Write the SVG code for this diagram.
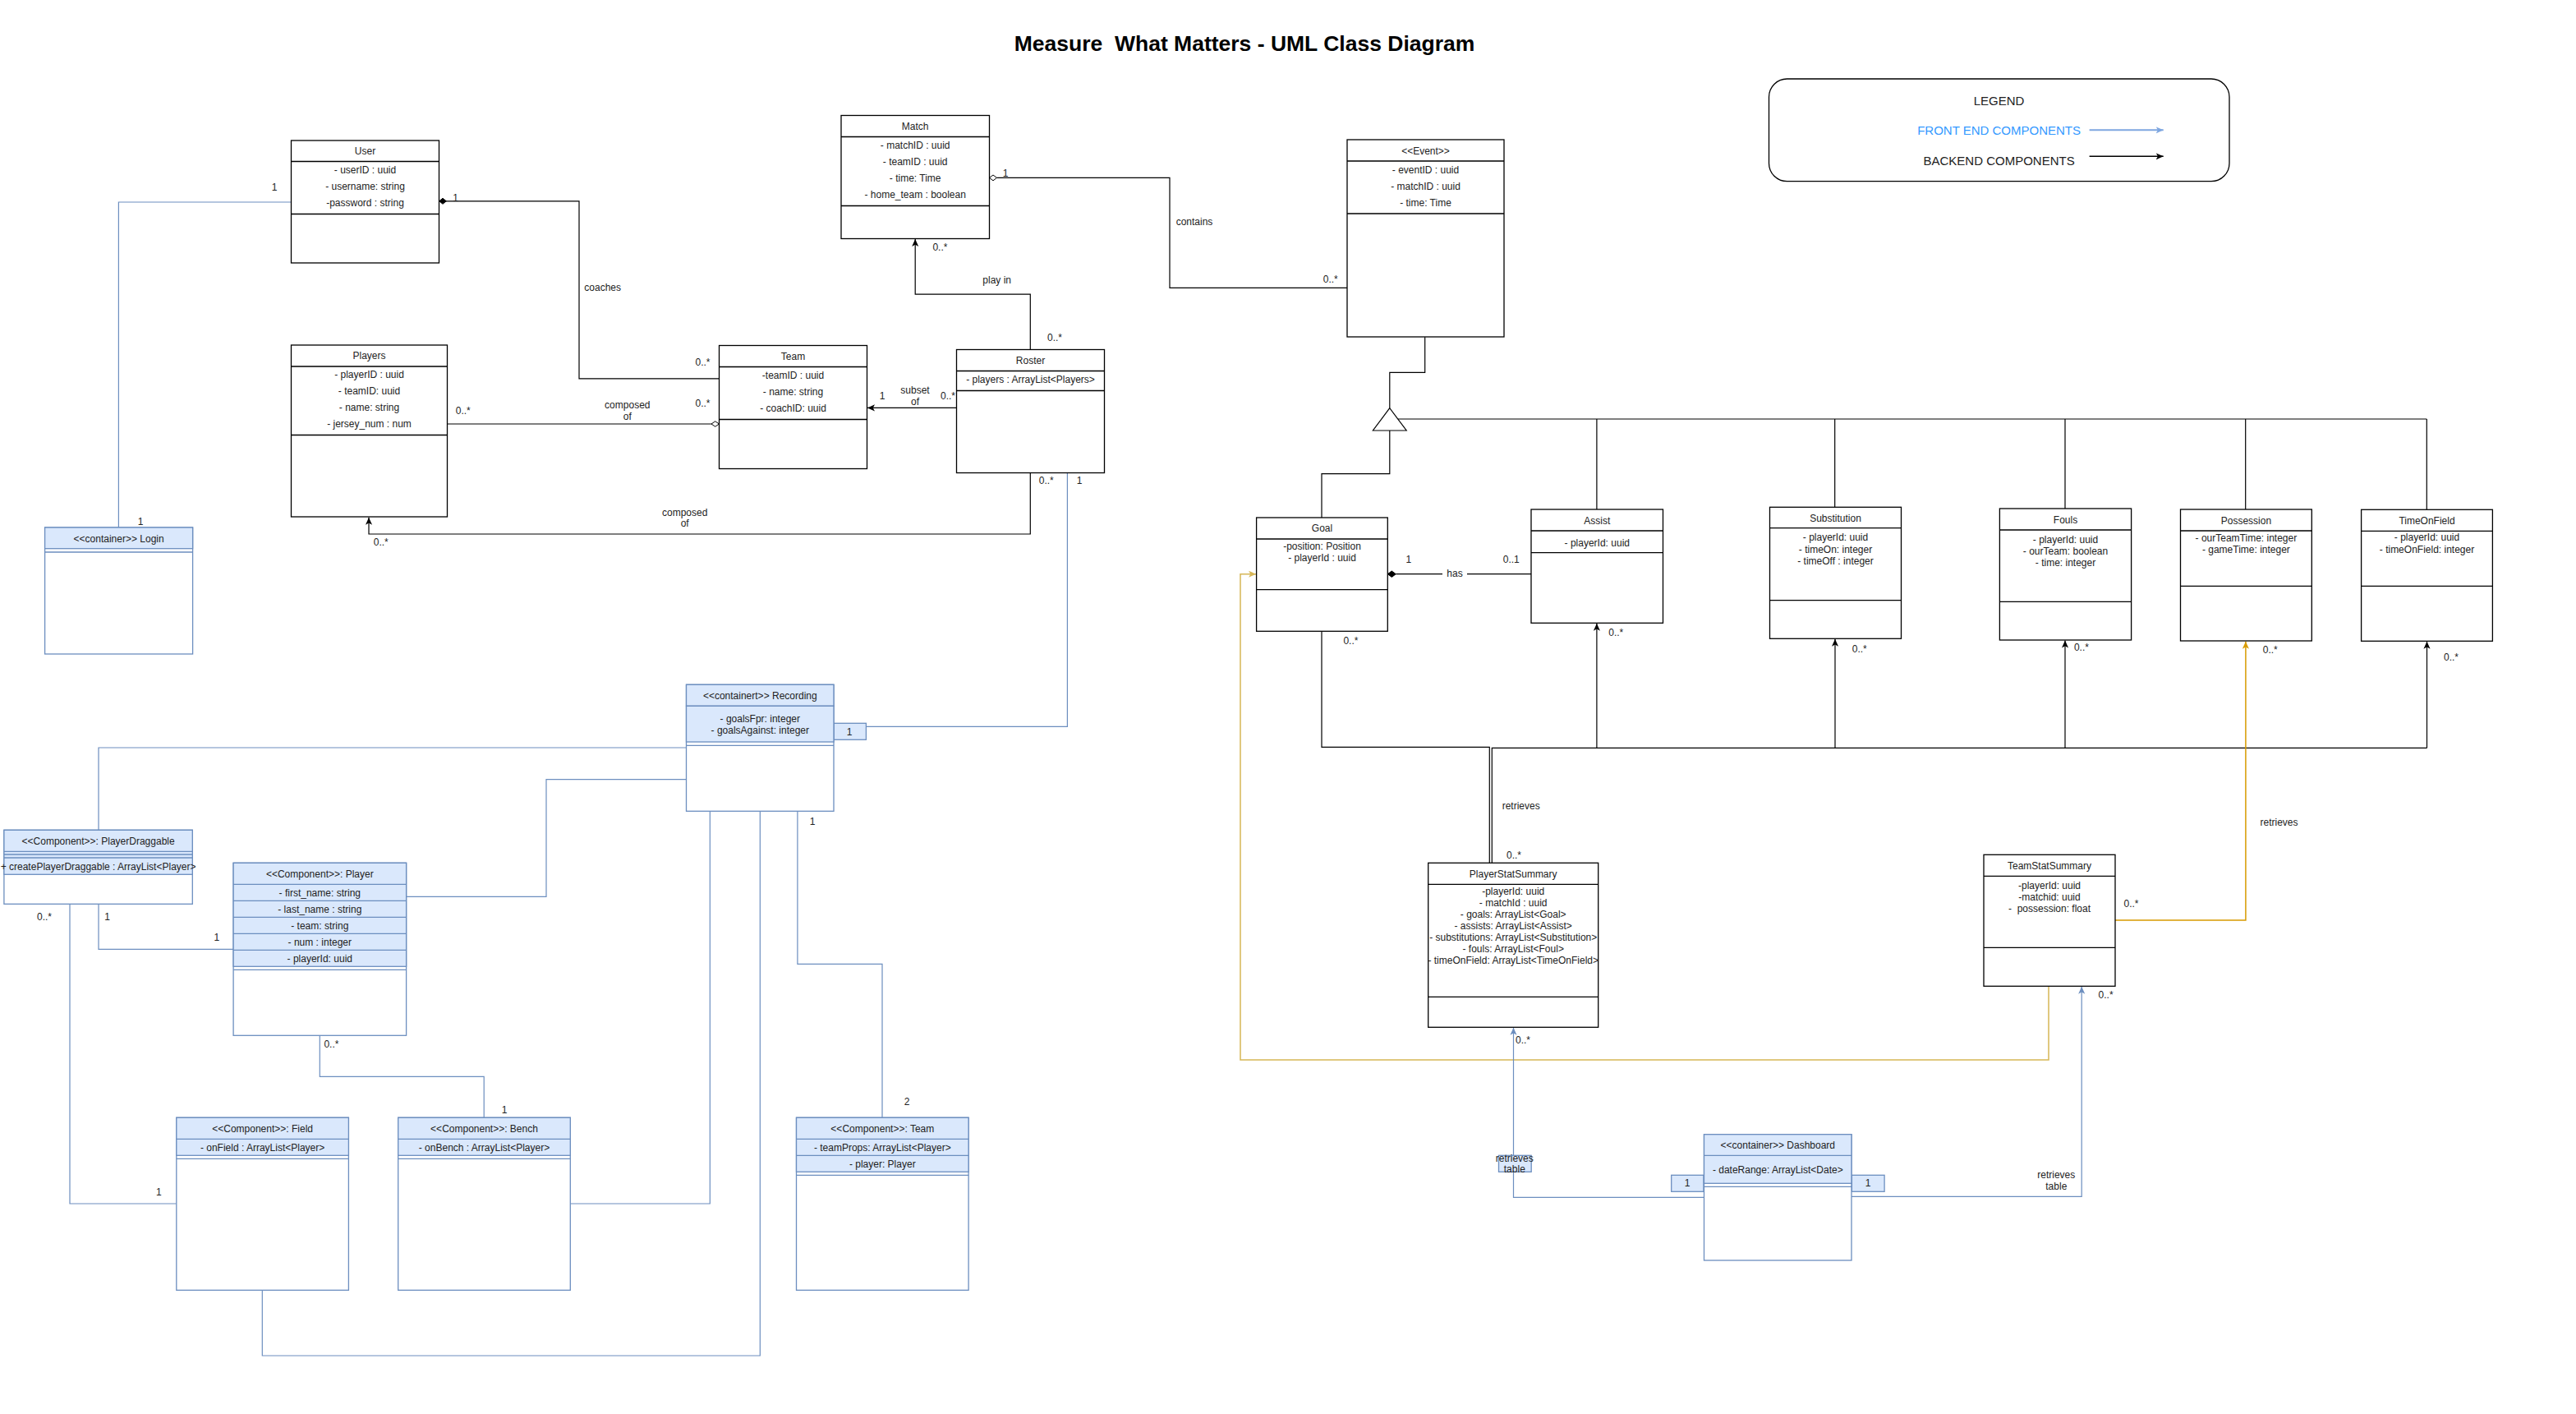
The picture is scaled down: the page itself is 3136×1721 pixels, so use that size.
<svg xmlns="http://www.w3.org/2000/svg" width="3136" height="1721" viewBox="0 0 3136 1721">
<style>
.t{font-family:"Liberation Sans",Arial,sans-serif;font-size:12px;fill:#222;text-anchor:middle;dominant-baseline:central}
.tl{text-anchor:start}
.box{fill:#fff;stroke:#000;stroke-width:1.3}
.sep{stroke:#000;stroke-width:1.3;fill:none}
.bbox{fill:#fff;stroke:#6c8ebf;stroke-width:1.3}
.bf{fill:#dae8fc;stroke:#6c8ebf;stroke-width:1.3}
.bsep{stroke:#6c8ebf;stroke-width:1.3;fill:none}
.c{fill:none;stroke:#000;stroke-width:1.2}
.cb{fill:none;stroke:#6c8ebf;stroke-width:1.2}
.cy{fill:none;stroke:#d6b656;stroke-width:1.5}
.co{fill:none;stroke:#d79b00;stroke-width:1.5}
.lg{font-size:15px}
</style>
<defs>
<marker id="ab" viewBox="0 0 10 10" refX="10" refY="5" markerWidth="9" markerHeight="9" markerUnits="userSpaceOnUse" orient="auto"><path d="M0,0.5 L10,5 L0,9.5 L2.5,5 z" fill="#000"/></marker>
<marker id="abl" viewBox="0 0 10 10" refX="10" refY="5" markerWidth="9" markerHeight="9" markerUnits="userSpaceOnUse" orient="auto"><path d="M0,0.5 L10,5 L0,9.5 L2.5,5 z" fill="#6c8ebf"/></marker>
<marker id="ay" viewBox="0 0 10 10" refX="10" refY="5" markerWidth="9" markerHeight="9" markerUnits="userSpaceOnUse" orient="auto"><path d="M0,0.5 L10,5 L0,9.5 L2.5,5 z" fill="#d6b656"/></marker>
<marker id="ao" viewBox="0 0 10 10" refX="10" refY="5" markerWidth="9" markerHeight="9" markerUnits="userSpaceOnUse" orient="auto"><path d="M0,0.5 L10,5 L0,9.5 L2.5,5 z" fill="#d79b00"/></marker>
<marker id="alg" viewBox="0 0 10 10" refX="10" refY="5" markerWidth="9" markerHeight="9" markerUnits="userSpaceOnUse" orient="auto"><path d="M0,0.5 L10,5 L0,9.5 L2.5,5 z" fill="#7ea6e0"/></marker>
</defs>
<rect x="0" y="0" width="3136" height="1721" fill="#fff"/>

<text x="1515" y="53" class="t" style="font-size:26.5px;font-weight:bold;fill:#000;white-space:pre" xml:space="preserve">Measure  What Matters - UML Class Diagram</text>

<g id="legend">
<rect x="2153.5" y="96" width="560.5" height="124.7" rx="22" ry="22" fill="#fff" stroke="#000" stroke-width="1.3"/>
<text x="2433.6" y="122.7" class="t lg">LEGEND</text>
<text x="2433.6" y="158.7" class="t lg" style="fill:#3399ff">FRONT END COMPONENTS</text>
<line x1="2543.6" y1="158.3" x2="2633.7" y2="158.3" stroke="#7ea6e0" stroke-width="2" marker-end="url(#alg)"/>
<text x="2433.6" y="195" class="t lg">BACKEND COMPONENTS</text>
<line x1="2543.6" y1="190.3" x2="2633.7" y2="190.3" stroke="#000" stroke-width="1.5" marker-end="url(#ab)"/>
</g>

<g id="connectors">
<!-- User - Team coaches -->
<path class="c" d="M542,244.8 H705 V460.8 H875.5"/>
<polygon points="534.7,244.8 539,241.3 543.3,244.8 539,248.3" fill="#000" stroke="#000"/>
<text x="554.6" y="240.5" class="t">1</text>
<text x="733.7" y="350.4" class="t">coaches</text>
<text x="855.5" y="440.7" class="t">0..*</text>
<!-- Players - Team composed of -->
<path class="c" d="M544.5,516 H866"/>
<polygon points="866,516 870.7,512.8 875.5,516 870.7,519.2" fill="#fff" stroke="#000" stroke-width="1"/>
<text x="563.8" y="499.8" class="t">0..*</text>
<text x="763.8" y="493.3" class="t">composed</text>
<text x="763.8" y="507" class="t">of</text>
<text x="855.5" y="490.7" class="t">0..*</text>
<!-- Roster - Team subset of -->
<path class="c" d="M1164.3,496.4 H1056" marker-end="url(#ab)"/>
<text x="1074" y="481.8" class="t">1</text>
<text x="1114" y="474.6" class="t">subset</text>
<text x="1114" y="489" class="t">of</text>
<text x="1154" y="481.8" class="t">0..*</text>
<!-- Roster - Match play in -->
<path class="c" d="M1254.3,425.7 V358.2 H1114.2 V291" marker-end="url(#ab)"/>
<text x="1213.7" y="340.7" class="t">play in</text>
<text x="1144.4" y="300.7" class="t">0..*</text>
<text x="1284" y="410.7" class="t">0..*</text>
<!-- Roster - Players composed of -->
<path class="c" d="M1254.3,575.7 V650 H449 V629.8" marker-end="url(#ab)"/>
<text x="1273.8" y="585.4" class="t">0..*</text>
<text x="833.7" y="623.6" class="t">composed</text>
<text x="833.7" y="637" class="t">of</text>
<text x="463.8" y="659.5" class="t">0..*</text>
<!-- Match - Event contains -->
<polygon points="1204.5,216.4 1209,213 1213.5,216.4 1209,219.8" fill="#fff" stroke="#000" stroke-width="1"/>
<path class="c" d="M1213.5,216.4 H1424 V350.3 H1640"/>
<text x="1224" y="211" class="t">1</text>
<text x="1454" y="270" class="t">contains</text>
<text x="1619.8" y="340.3" class="t">0..*</text>
<!-- Generalization -->
<path class="c" d="M1734.7,410.3 V453.3 H1691.8 V496.7"/>
<polygon points="1691.8,496.7 1671.4,524 1712.2,524" fill="#fff" stroke="#000" stroke-width="1.2"/>
<path class="c" d="M1691.8,524 V576.7 H1609 V630"/>
<path class="c" d="M1702,510 H2954.3"/>
<path class="c" d="M1943.9,510 V620 M2233.7,510 V617.3 M2514,510 V619 M2733.7,510 V620 M2954.3,510 V620.3"/>
<!-- Goal - Assist has -->
<polygon points="1689.3,698.7 1694.3,695 1699.3,698.7 1694.3,702.4" fill="#000" stroke="#000"/>
<path class="c" d="M1699.3,698.7 H1864"/>
<rect x="1756" y="690" width="30" height="16" fill="#fff"/>
<text x="1771" y="697.5" class="t">has</text>
<text x="1714.8" y="681" class="t">1</text>
<text x="1839.8" y="681" class="t">0..1</text>
<!-- Goal - PlayerStatSummary -->
<path class="c" d="M1609,768.3 V909.3 H1813.3 V1050.3"/>
<!-- PlayerStatSummary - events -->
<path class="c" d="M1816.3,1050.3 V910.3 H2954.6"/>
<path class="c" d="M1943.9,910.3 V758.8" marker-end="url(#ab)"/>
<path class="c" d="M2234,910.3 V777.8" marker-end="url(#ab)"/>
<path class="c" d="M2514,910.3 V779.5" marker-end="url(#ab)"/>
<path class="c" d="M2954.5,910.3 V780.8" marker-end="url(#ab)"/>
<text x="1828.7" y="980.7" class="t tl">retrieves</text>
<text x="1843" y="1040.7" class="t">0..*</text>
<text x="1644.4" y="780.3" class="t">0..*</text>
<text x="1967.3" y="770.3" class="t">0..*</text>
<text x="2263.8" y="790" class="t">0..*</text>
<text x="2533.9" y="788" class="t">0..*</text>
<text x="2984" y="800" class="t">0..*</text>
<!-- TeamStatSummary - Possession -->
<path class="co" d="M2575,1120 H2733.9 V780.8" marker-end="url(#ao)"/>
<text x="2774.5" y="1000.7" class="t">retrieves</text>
<text x="2594.5" y="1100" class="t">0..*</text>
<text x="2763.8" y="790.7" class="t">0..*</text>
<!-- TeamStatSummary - Goal -->
<path class="cy" d="M2494,1200.3 V1290 H1510 V698.7 H1529.1" marker-end="url(#ay)"/>

<!-- User - Login -->
<path class="cb" d="M354.5,246 H144.4 V642"/>
<text x="334" y="228" class="t">1</text>
<text x="171" y="635" class="t">1</text>
<!-- Roster - Recording -->
<path class="cb" d="M1299.4,575.7 V884.3 H1054.4"/>
<rect x="1015" y="880.3" width="39.4" height="20" class="bf"/>
<text x="1034" y="890.7" class="t">1</text>
<text x="1314" y="585.4" class="t">1</text>
<!-- Recording - PlayerDraggable -->
<path class="cb" d="M835.5,910 H120 V1010.3"/>
<!-- Player - Recording -->
<path class="cb" d="M494.6,1091.3 H665 V948.7 H835.5"/>
<!-- PlayerDraggable - Player -->
<path class="cb" d="M120,1100.3 V1155.3 H284.1"/>
<text x="130.5" y="1116" class="t">1</text>
<text x="263.8" y="1140.7" class="t">1</text>
<!-- PlayerDraggable - Field -->
<path class="cb" d="M85,1100.3 V1465 H214.8"/>
<text x="54" y="1116" class="t">0..*</text>
<text x="193.4" y="1450.7" class="t">1</text>
<!-- Player - Bench -->
<path class="cb" d="M389.3,1260.3 V1310.3 H589.2 V1360.3"/>
<text x="403.4" y="1270.7" class="t">0..*</text>
<text x="614" y="1350.7" class="t">1</text>
<!-- Recording - Bench -->
<path class="cb" d="M864.3,987.3 V1465 H694.3"/>
<!-- Recording - Field -->
<path class="cb" d="M925.3,987.3 V1650 H319.3 V1570.3"/>
<!-- Recording - Team component -->
<path class="cb" d="M970.9,987.3 V1173.3 H1074 V1360.3"/>
<text x="989" y="1000.3" class="t">1</text>
<text x="1104" y="1340.7" class="t">2</text>
<!-- Dashboard - PlayerStatSummary -->
<path class="cb" d="M2074.5,1457.3 H1842.5 V1250.8" marker-end="url(#abl)"/>
<rect x="1824.5" y="1406.3" width="39.7" height="20" class="bf"/>
<text x="1843.8" y="1410" class="t">retrieves</text>
<text x="1843.8" y="1423.3" class="t">table</text>
<text x="1854" y="1266" class="t">0..*</text>
<rect x="2034.7" y="1430.3" width="39.3" height="20" class="bf"/>
<text x="2054" y="1440.3" class="t">1</text>
<!-- Dashboard - TeamStatSummary -->
<path class="cb" d="M2254,1456.3 H2534.2 V1200.8" marker-end="url(#abl)"/>
<rect x="2254.4" y="1430.3" width="39.7" height="20" class="bf"/>
<text x="2274" y="1440.3" class="t">1</text>
<text x="2503.3" y="1430.3" class="t">retrieves</text>
<text x="2503.3" y="1443.7" class="t">table</text>
<text x="2563.6" y="1210.7" class="t">0..*</text>
</g>

<g id="User">
<rect x="354.5" y="171" width="180" height="149" class="box"/>
<path class="sep" d="M354.5,196.5 H534.5 M354.5,260.5 H534.5"/>
<text x="444.5" y="183.5" class="t">User</text>
<text x="444.5" y="206.5" class="t">- userID : uuid</text>
<text x="444.5" y="226.5" class="t">- username: string</text>
<text x="444.5" y="246.5" class="t">-password : string</text>
</g>

<g id="Players">
<rect x="354.5" y="420" width="190" height="209" class="box"/>
<path class="sep" d="M354.5,446 H544.5 M354.5,529.5 H544.5"/>
<text x="449.5" y="433" class="t">Players</text>
<text x="449.5" y="456" class="t">- playerID : uuid</text>
<text x="449.5" y="476" class="t">- teamID: uuid</text>
<text x="449.5" y="496" class="t">- name: string</text>
<text x="449.5" y="516" class="t">- jersey_num : num</text>
</g>

<g id="Match">
<rect x="1024" y="140.5" width="180.5" height="150" class="box"/>
<path class="sep" d="M1024,166.5 H1204.5 M1024,250.5 H1204.5"/>
<text x="1114.2" y="153.5" class="t">Match</text>
<text x="1114.2" y="176.5" class="t">- matchID : uuid</text>
<text x="1114.2" y="196.5" class="t">- teamID : uuid</text>
<text x="1114.2" y="216.5" class="t">- time: Time</text>
<text x="1114.2" y="236.5" class="t">- home_team : boolean</text>
</g>

<g id="Team">
<rect x="875.5" y="420.5" width="180" height="150" class="box"/>
<path class="sep" d="M875.5,446.5 H1055.5 M875.5,510.5 H1055.5"/>
<text x="965.5" y="433.5" class="t">Team</text>
<text x="965.5" y="456.5" class="t">-teamID : uuid</text>
<text x="965.5" y="476.5" class="t">- name: string</text>
<text x="965.5" y="496.5" class="t">- coachID: uuid</text>
</g>

<g id="Roster">
<rect x="1164.5" y="425.5" width="180" height="150" class="box"/>
<path class="sep" d="M1164.5,451.5 H1344.5 M1164.5,475.5 H1344.5"/>
<text x="1254.5" y="438.5" class="t">Roster</text>
<text x="1254.5" y="461.8" class="t">- players : ArrayList&lt;Players&gt;</text>
</g>

<g id="Event">
<rect x="1640" y="170" width="191" height="240" class="box"/>
<path class="sep" d="M1640,196 H1831 M1640,260 H1831"/>
<text x="1735.5" y="183.5" class="t">&lt;&lt;Event&gt;&gt;</text>
<text x="1735.5" y="206.5" class="t">- eventID : uuid</text>
<text x="1735.5" y="226.5" class="t">- matchID : uuid</text>
<text x="1735.5" y="246.5" class="t">- time: Time</text>
</g>

<g id="Goal">
<rect x="1529.6" y="630" width="159.7" height="138.3" class="box"/>
<path class="sep" d="M1529.6,656 H1689.3 M1529.6,717.7 H1689.3"/>
<text x="1609.5" y="643.3" class="t">Goal</text>
<text x="1609.5" y="665" class="t">-position: Position</text>
<text x="1609.5" y="679.3" class="t">- playerId : uuid</text>
</g>

<g id="Assist">
<rect x="1864" y="620" width="160.5" height="138.3" class="box"/>
<path class="sep" d="M1864,646 H2024.5 M1864,672.7 H2024.5"/>
<text x="1944.3" y="633.7" class="t">Assist</text>
<text x="1944.3" y="661" class="t">- playerId: uuid</text>
</g>

<g id="Substitution">
<rect x="2154.5" y="617.3" width="160" height="160" class="box"/>
<path class="sep" d="M2154.5,642.7 H2314.5 M2154.5,730.7 H2314.5"/>
<text x="2234.5" y="630.7" class="t">Substitution</text>
<text x="2234.5" y="654" class="t">- playerId: uuid</text>
<text x="2234.5" y="668.7" class="t">- timeOn: integer</text>
<text x="2234.5" y="682.7" class="t">- timeOff : integer</text>
</g>

<g id="Fouls">
<rect x="2434.4" y="619" width="160.2" height="160" class="box"/>
<path class="sep" d="M2434.4,645 H2594.6 M2434.4,732.3 H2594.6"/>
<text x="2514.5" y="632.7" class="t">Fouls</text>
<text x="2514.5" y="656.7" class="t">- playerId: uuid</text>
<text x="2514.5" y="670.7" class="t">- ourTeam: boolean</text>
<text x="2514.5" y="684.7" class="t">- time: integer</text>
</g>

<g id="Possession">
<rect x="2654.5" y="620" width="159.8" height="160" class="box"/>
<path class="sep" d="M2654.5,646 H2814.3 M2654.5,713.3 H2814.3"/>
<text x="2734.4" y="633.7" class="t">Possession</text>
<text x="2734.4" y="654.7" class="t">- ourTeamTime: integer</text>
<text x="2734.4" y="668.7" class="t">- gameTime: integer</text>
</g>

<g id="TimeOnField">
<rect x="2874.6" y="620.3" width="159.8" height="160" class="box"/>
<path class="sep" d="M2874.6,646.3 H3034.4 M2874.6,713.3 H3034.4"/>
<text x="2954.5" y="633.7" class="t">TimeOnField</text>
<text x="2954.5" y="654.3" class="t">- playerId: uuid</text>
<text x="2954.5" y="668.7" class="t">- timeOnField: integer</text>
</g>

<g id="PlayerStatSummary">
<rect x="1738.7" y="1050.3" width="207" height="200" class="box"/>
<path class="sep" d="M1738.7,1076.3 H1945.7 M1738.7,1213.3 H1945.7"/>
<text x="1842.2" y="1064" class="t">PlayerStatSummary</text>
<text x="1842.2" y="1085.3" class="t">-playerId: uuid</text>
<text x="1842.2" y="1099" class="t">- matchId : uuid</text>
<text x="1842.2" y="1113" class="t">- goals: ArrayList&lt;Goal&gt;</text>
<text x="1842.2" y="1127" class="t">- assists: ArrayList&lt;Assist&gt;</text>
<text x="1842.2" y="1141" class="t">- substitutions: ArrayList&lt;Substitution&gt;</text>
<text x="1842.2" y="1155" class="t">- fouls: ArrayList&lt;Foul&gt;</text>
<text x="1842.2" y="1169" class="t">- timeOnField: ArrayList&lt;TimeOnField&gt;</text>
</g>

<g id="TeamStatSummary">
<rect x="2415" y="1040.3" width="160" height="160" class="box"/>
<path class="sep" d="M2415,1066.3 H2575 M2415,1153.3 H2575"/>
<text x="2495" y="1054" class="t">TeamStatSummary</text>
<text x="2495" y="1078.3" class="t">-playerId: uuid</text>
<text x="2495" y="1092" class="t">-matchid: uuid</text>
<text x="2495" y="1106" class="t" style="white-space:pre" xml:space="preserve">-  possession: float</text>
</g>

<g id="Login">
<rect x="54.6" y="642" width="180" height="154" class="bbox"/>
<rect x="54.6" y="642" width="180" height="25.7" class="bf"/>
<path class="bsep" d="M54.6,672 H234.6"/>
<text x="144.6" y="655.6" class="t">&lt;&lt;container&gt;&gt; Login</text>
</g>

<g id="Recording">
<rect x="835.5" y="833.3" width="179.5" height="154" class="bbox"/>
<rect x="835.5" y="833.3" width="179.5" height="26" class="bf"/>
<rect x="835.5" y="859.3" width="179.5" height="43.7" class="bf"/>
<path class="bsep" d="M835.5,907.3 H1015"/>
<text x="925.3" y="846.7" class="t">&lt;&lt;containert&gt;&gt; Recording</text>
<text x="925.3" y="875" class="t">- goalsFpr: integer</text>
<text x="925.3" y="889" class="t">- goalsAgainst: integer</text>
</g>

<g id="PlayerDraggable">
<rect x="4.9" y="1010.3" width="229.4" height="90" class="bbox"/>
<rect x="4.9" y="1010.3" width="229.4" height="54" class="bf"/>
<path class="bsep" d="M4.9,1036.3 H234.3 M4.9,1040 H234.3 M4.9,1044 H234.3"/>
<text x="119.6" y="1023.7" class="t">&lt;&lt;Component&gt;&gt;: PlayerDraggable</text>
<text x="119.6" y="1055" class="t">+ createPlayerDraggable : ArrayList&lt;Player&gt;</text>
</g>

<g id="PlayerComponent">
<rect x="284.1" y="1050.3" width="210.5" height="210" class="bbox"/>
<rect x="284.1" y="1050.3" width="210.5" height="126" class="bf"/>
<path class="bsep" d="M284.1,1076.3 H494.6 M284.1,1096.3 H494.6 M284.1,1116.3 H494.6 M284.1,1136.3 H494.6 M284.1,1156.3 H494.6 M284.1,1180.3 H494.6"/>
<text x="389.3" y="1063.7" class="t">&lt;&lt;Component&gt;&gt;: Player</text>
<text x="389.3" y="1087" class="t">- first_name: string</text>
<text x="389.3" y="1107" class="t">- last_name : string</text>
<text x="389.3" y="1127" class="t">- team: string</text>
<text x="389.3" y="1147" class="t">- num : integer</text>
<text x="389.3" y="1167" class="t">- playerId: uuid</text>
</g>

<g id="Field">
<rect x="214.8" y="1360.3" width="209.6" height="210" class="bbox"/>
<rect x="214.8" y="1360.3" width="209.6" height="46" class="bf"/>
<path class="bsep" d="M214.8,1386.3 H424.4 M214.8,1410.3 H424.4"/>
<text x="319.6" y="1373.7" class="t">&lt;&lt;Component&gt;&gt;: Field</text>
<text x="319.6" y="1396.7" class="t">- onField : ArrayList&lt;Player&gt;</text>
</g>

<g id="Bench">
<rect x="484.7" y="1360.3" width="209.6" height="210" class="bbox"/>
<rect x="484.7" y="1360.3" width="209.6" height="46" class="bf"/>
<path class="bsep" d="M484.7,1386.3 H694.3 M484.7,1410.3 H694.3"/>
<text x="589.5" y="1373.7" class="t">&lt;&lt;Component&gt;&gt;: Bench</text>
<text x="589.5" y="1396.7" class="t">- onBench : ArrayList&lt;Player&gt;</text>
</g>

<g id="TeamComponent">
<rect x="969.5" y="1360.3" width="209.6" height="210" class="bbox"/>
<rect x="969.5" y="1360.3" width="209.6" height="66" class="bf"/>
<path class="bsep" d="M969.5,1386.3 H1179.1 M969.5,1406.3 H1179.1 M969.5,1430.3 H1179.1"/>
<text x="1074.3" y="1373.7" class="t">&lt;&lt;Component&gt;&gt;: Team</text>
<text x="1074.3" y="1396.7" class="t">- teamProps: ArrayList&lt;Player&gt;</text>
<text x="1074.3" y="1416.7" class="t">- player: Player</text>
</g>

<g id="Dashboard">
<rect x="2074.5" y="1380.7" width="179.5" height="153.3" class="bbox"/>
<rect x="2074.5" y="1380.7" width="179.5" height="59.6" class="bf"/>
<path class="bsep" d="M2074.5,1406.3 H2254 M2074.5,1444.3 H2254"/>
<text x="2164.3" y="1393.7" class="t">&lt;&lt;container&gt;&gt; Dashboard</text>
<text x="2164.3" y="1423.7" class="t">- dateRange: ArrayList&lt;Date&gt;</text>
</g>
</svg>
